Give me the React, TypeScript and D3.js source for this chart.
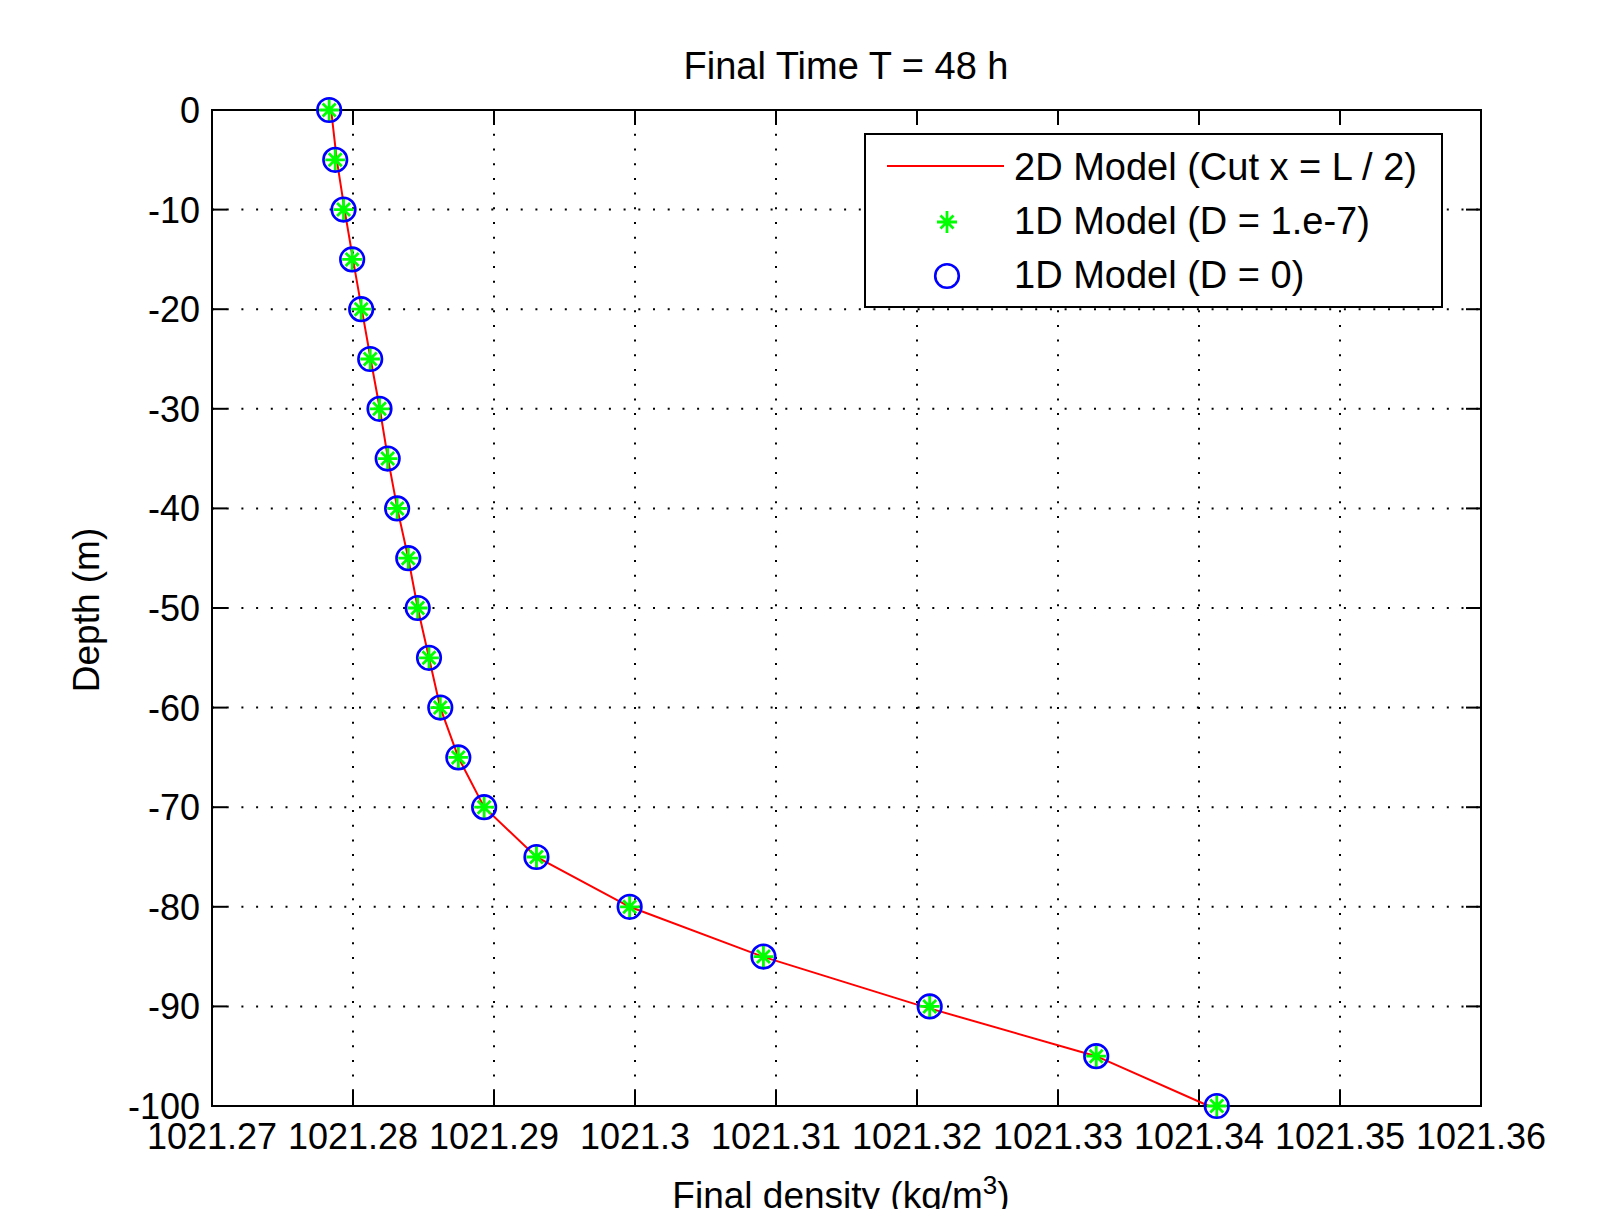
import React from 'react';
import * as d3 from 'd3';

const depths = [0, -5, -10, -15, -20, -25, -30, -35, -40, -45, -50, -55, -60, -65, -70, -75, -80, -85, -90, -95, -100];

const density2D = [
  1021.27845, 1021.27885, 1021.27940, 1021.28000, 1021.28062, 1021.28125, 1021.28190,
  1021.28248, 1021.28314, 1021.28392, 1021.28459, 1021.28539, 1021.28619, 1021.28747,
  1021.28930, 1021.29301, 1021.29962, 1021.30905, 1021.32040, 1021.33271, 1021.34070,
];

const density1D_D1e7 = [
  1021.27831, 1021.27874, 1021.27933, 1021.27994, 1021.28058, 1021.28122, 1021.28188,
  1021.28246, 1021.28313, 1021.28392, 1021.28459, 1021.28539, 1021.28619, 1021.28747,
  1021.28930, 1021.29301, 1021.29962, 1021.30911, 1021.32090, 1021.33271, 1021.34126,
];

const density1D_D0 = [
  1021.27831, 1021.27874, 1021.27933, 1021.27994, 1021.28058, 1021.28122, 1021.28188,
  1021.28246, 1021.28313, 1021.28392, 1021.28459, 1021.28539, 1021.28619, 1021.28747,
  1021.28930, 1021.29301, 1021.29962, 1021.30911, 1021.32090, 1021.33271, 1021.34126,
];

const xTicks = [1021.27, 1021.28, 1021.29, 1021.3, 1021.31, 1021.32, 1021.33, 1021.34, 1021.35, 1021.36];
const xTickLabels = ['1021.27', '1021.28', '1021.29', '1021.3', '1021.31', '1021.32', '1021.33', '1021.34', '1021.35', '1021.36'];
const yTicks = [0, -10, -20, -30, -40, -50, -60, -70, -80, -90, -100];
const yTickLabels = ['0', '-10', '-20', '-30', '-40', '-50', '-60', '-70', '-80', '-90', '-100'];

const legendLabels = ['2D Model (Cut x = L / 2)', '1D Model (D = 1.e-7)', '1D Model (D = 0)'];

const W = 1614;
const H = 1209;
const left = 212;
const right = 1481;
const top = 110;
const bottom = 1106;
const font = '"Liberation Sans", Arial, Helvetica, sans-serif';

const starPath = 'M-10,0H10M0,-11V11M-6.5,-6.5L6.5,6.5M-6.5,6.5L6.5,-6.5';

export default function App() {
  const x = d3.scaleLinear().domain([1021.27, 1021.36]).range([left, right]);
  const y = d3.scaleLinear().domain([-100, 0]).range([bottom, top]);
  const line = d3
    .line<number>()
    .x((d) => x(d))
    .y((_, i) => y(depths[i]));
  const tickLen = 15;

  return (
    <div style={{ position: 'absolute', left: 0, top: 0 }}>
      <svg width={W} height={H} style={{ display: 'block', background: '#fff' }} fontFamily={font}>
        <rect x={0} y={0} width={W} height={H} fill="#fff" />
        {/* grid */}
        <g stroke="#000" strokeWidth={2} strokeDasharray="2 12.7">
          {xTicks.slice(1, -1).map((t) => (
            <line key={'gx' + t} x1={x(t)} x2={x(t)} y1={bottom} y2={top} />
          ))}
          {yTicks.slice(1, -1).map((t) => (
            <line key={'gy' + t} x1={left} x2={right} y1={y(t)} y2={y(t)} />
          ))}
        </g>
        {/* ticks */}
        <g stroke="#000" strokeWidth={2}>
          {xTicks.map((t) => (
            <g key={'tx' + t}>
              <line x1={x(t)} x2={x(t)} y1={bottom} y2={bottom - tickLen} />
              <line x1={x(t)} x2={x(t)} y1={top} y2={top + tickLen} />
            </g>
          ))}
          {yTicks.map((t) => (
            <g key={'ty' + t}>
              <line x1={left} x2={left + tickLen} y1={y(t)} y2={y(t)} />
              <line x1={right} x2={right - tickLen} y1={y(t)} y2={y(t)} />
            </g>
          ))}
        </g>
        {/* frame */}
        <rect x={left} y={top} width={right - left} height={bottom - top} fill="none" stroke="#000" strokeWidth={2} />
        {/* tick labels */}
        <g fontSize={36} fill="#000">
          {xTicks.map((t, i) => (
            <text key={'lx' + t} x={x(t)} y={1149} textAnchor="middle">
              {xTickLabels[i]}
            </text>
          ))}
          {yTicks.map((t, i) => (
            <text key={'ly' + t} x={200} y={y(t) + 13} textAnchor="end">
              {yTickLabels[i]}
            </text>
          ))}
        </g>
        {/* data */}
        <path d={line(density2D) || ''} fill="none" stroke="#ff0000" strokeWidth={2} />
        <g stroke="#00ff00" strokeWidth={2.8} fill="none">
          {density1D_D1e7.map((d, i) => (
            <path key={'s' + i} d={starPath} transform={`translate(${x(d)},${y(depths[i])})`} />
          ))}
        </g>
        <g stroke="#0000ff" strokeWidth={2.6} fill="none">
          {density1D_D0.map((d, i) => (
            <circle key={'c' + i} cx={x(d)} cy={y(depths[i])} r={11.8} />
          ))}
        </g>
        {/* title and labels */}
        <text x={846} y={79} fontSize={38} textAnchor="middle" fill="#000">
          Final Time T = 48 h
        </text>
        <text x={841} y={1208} fontSize={37} textAnchor="middle" fill="#000">
          Final density (kg/m
          <tspan dy={-14} fontSize={26}>3</tspan>
          <tspan dy={14}>)</tspan>
        </text>
        <text transform="translate(99,610) rotate(-90)" fontSize={37} textAnchor="middle" fill="#000">
          Depth (m)
        </text>
        {/* legend */}
        <g>
          <rect x={865} y={134} width={577} height={173} fill="#fff" stroke="#000" strokeWidth={2} />
          <line x1={887} x2={1004} y1={166} y2={166} stroke="#ff0000" strokeWidth={2} />
          <path d={starPath} transform="translate(947,222)" stroke="#00ff00" strokeWidth={2.8} fill="none" />
          <circle cx={947} cy={276} r={11.8} stroke="#0000ff" strokeWidth={2.6} fill="none" />
          <g fontSize={38} fill="#000">
            {legendLabels.map((l, i) => (
              <text key={'lg' + i} x={1014} y={180 + i * 54}>
                {l}
              </text>
            ))}
          </g>
        </g>
      </svg>
    </div>
  );
}
